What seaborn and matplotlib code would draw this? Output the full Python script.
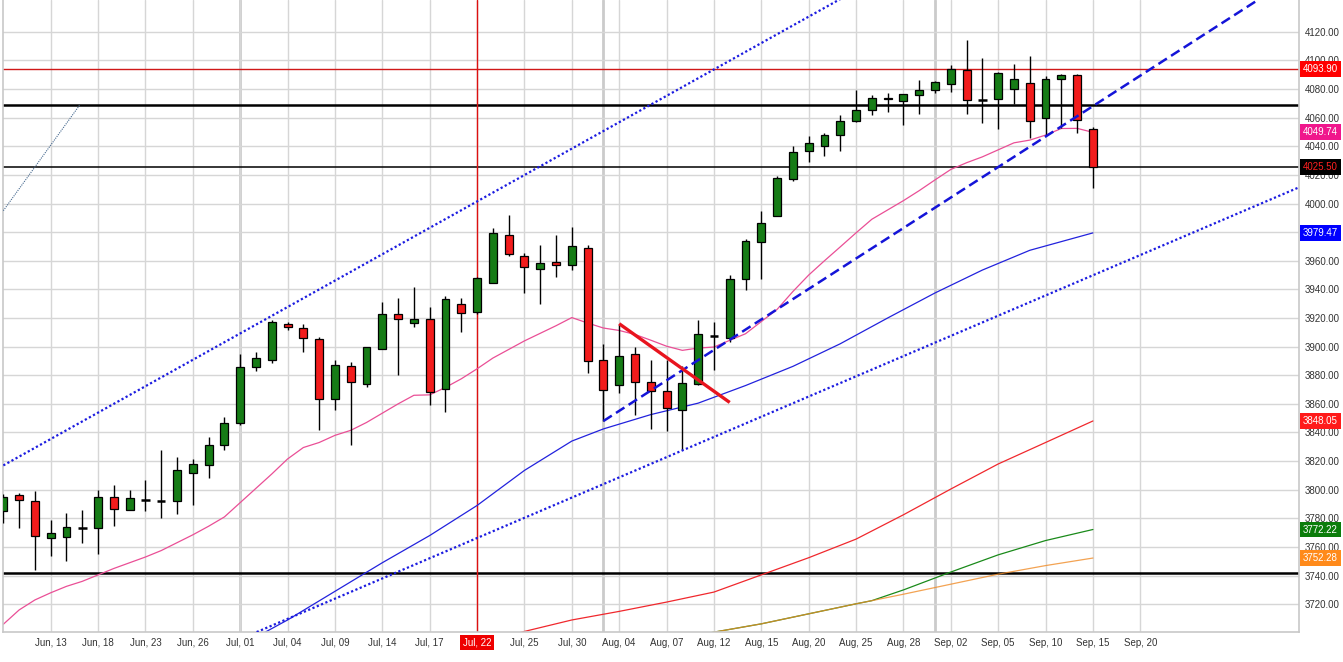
import matplotlib
matplotlib.use('Agg')
import matplotlib.pyplot as plt
import matplotlib.transforms as mtransforms
import seaborn as sns

# ---- data ----
date_labels = ['Jun, 13', 'Jun, 18', 'Jun, 23', 'Jun, 26', 'Jul, 01', 'Jul, 04', 'Jul, 09',
               'Jul, 14', 'Jul, 17', 'Jul, 22', 'Jul, 25', 'Jul, 30', 'Aug, 04', 'Aug, 07',
               'Aug, 12', 'Aug, 15', 'Aug, 20', 'Aug, 25', 'Aug, 28', 'Sep, 02', 'Sep, 05',
               'Sep, 10', 'Sep, 15', 'Sep, 20']
highlight_label = 'Jul, 22'
month_bars = [15, 38, 59]

opens = [3785, 3796, 3792, 3766.5, 3767, 3773, 3773.5, 3795, 3786, 3792.5,
         3792.3, 3792.3, 3812, 3817, 3831, 3846.5, 3886, 3890.5, 3916, 3913.3,
         3905.5, 3863.5, 3886.5, 3874, 3898.5, 3923, 3916.5, 3919.5, 3870.5, 3930,
         3924.5, 3944.5, 3978, 3963, 3954.3, 3959, 3957.3, 3969, 3891, 3873.5,
         3895, 3875, 3869, 3856, 3874, 3907.3, 3906, 3947, 3973, 3991.5,
         4017, 4037, 4040, 4048, 4058, 4065, 4074, 4071.8, 4076, 4079,
         4083.2, 4093, 4072.3, 4072.7, 4080.2, 4084, 4060, 4086.7, 4090, 4052]
highs = [3797, 3798, 3799, 3779, 3783.5, 3786, 3800, 3803.5, 3799.5, 3807,
         3828, 3823, 3821.5, 3837, 3850.5, 3894.5, 3896.5, 3918.5, 3917, 3915.5,
         3907, 3891, 3889.5, 3900, 3931, 3934, 3941.5, 3928, 3935.5, 3934,
         3949, 3983, 3992, 3965.5, 3971, 3978, 3983.5, 3971, 3901.5, 3915.5,
         3900, 3891, 3891, 3886.5, 3918.5, 3917.5, 3950, 3975, 3994.5, 4019.5,
         4040.5, 4047, 4049, 4061.5, 4079, 4076, 4077.5, 4076.4, 4086.3, 4085.6,
         4096.5, 4114, 4101.5, 4091.8, 4097.5, 4103, 4089, 4090.5, 4090.5, 4053.5]
lows = [3777, 3773, 3744, 3753.5, 3750, 3763, 3755, 3774.5, 3785.5, 3785,
        3780.5, 3783, 3789, 3808, 3827.5, 3845, 3883, 3888.5, 3911.5, 3896,
        3842, 3856, 3831, 3872, 3898.5, 3880.5, 3913.5, 3859.5, 3854.5, 3910,
        3923, 3944.5, 3963.5, 3937.5, 3929.5, 3948.5, 3953.5, 3881.5, 3848, 3867.5,
        3852, 3842.5, 3841, 3827.5, 3873.5, 3883.5, 3903.5, 3939.5, 3947, 3991.5,
        4015.8, 4029, 4033, 4037, 4057, 4061.5, 4064, 4055, 4062.7, 4077,
        4078, 4062.7, 4056.5, 4052.2, 4069.2, 4046, 4048, 4052.7, 4049.5, 4011]
closes = [3795, 3793, 3768, 3770, 3774, 3773.3, 3795, 3786.5, 3794.5, 3792.7,
          3792.5, 3813.5, 3818, 3831.5, 3846.5, 3886, 3892.3, 3917, 3914, 3906.3,
          3863.5, 3887.5, 3875, 3899.5, 3923, 3919.5, 3919.5, 3868, 3933, 3923.5,
          3948, 3979.5, 3965, 3955.7, 3958.7, 3957.3, 3970, 3890, 3870, 3893.5,
          3875.3, 3869, 3857.3, 3874.3, 3909, 3907.6, 3947.5, 3974, 3986.5, 4017.5,
          4036.3, 4042, 4048, 4058, 4065.5, 4074, 4072.7, 4076.2, 4079, 4085,
          4094.2, 4072, 4072.5, 4091, 4086.7, 4058, 4086.7, 4090, 4058.7, 4025.5]

# moving averages
pink_ma = [3706, 3716, 3723, 3728, 3732.5, 3736, 3740.5, 3745, 3749, 3753,
           3757.5, 3763, 3768.5, 3774.5, 3781, 3791, 3801, 3811, 3821.5, 3829.5,
           3833, 3838, 3841.5, 3847, 3853.5, 3860, 3866, 3866.3, 3871.5, 3877.5,
           3884.5, 3892, 3898, 3904, 3909.3, 3914.6, 3920.3, 3916.5, 3913, 3911.3,
           3908.5, 3904.5, 3900.3, 3897.4, 3899, 3899.7, 3904.4, 3909, 3917.5, 3926,
           3938.5, 3950, 3960, 3969.7, 3979.5, 3989, 3995.5, 4002, 4009, 4016.5,
           4023.8, 4028.5, 4032.6, 4037.5, 4042.4, 4044.3, 4047.8, 4052.4, 4052.5, 4049.74]
blue_ma_bars = [16, 18, 21, 24, 27, 30, 33, 36, 38, 41, 44, 47, 50, 53, 56, 59, 62, 65, 69]
blue_ma = [3697, 3709, 3729, 3749, 3768, 3789, 3813.5, 3834, 3842.5, 3852.5,
           3860.5, 3872.8, 3886.2, 3902, 3920, 3937.5, 3953.5, 3967.3, 3979.47]
red_ma_bars = [32, 33, 36, 39, 42, 45, 48, 51, 54, 57, 60, 63, 66, 69]
red_ma = [3698, 3701, 3709, 3715, 3721.5, 3728.5, 3740.5, 3752.5, 3765.5, 3782.5,
          3800.5, 3818, 3833, 3848.05]
green_ma_bars = [44, 45, 48, 51, 54, 55, 57, 60, 63, 66, 69]
green_ma = [3698.5, 3700.5, 3706.3, 3713.3, 3720.3, 3722.5, 3730, 3742.5, 3754.5, 3764.5, 3772.22]
orange_ma_bars = [44, 45, 48, 51, 54, 55, 57, 60, 63, 66, 69]
orange_ma = [3698.5, 3700.5, 3706.3, 3713.3, 3720.3, 3722.5, 3727, 3734, 3741, 3747, 3752.28]

# drawn studies: horizontal levels and trend lines (bar index, price)
red_level = 4093.90
upper_black_level = 4069.0
close_level = 4025.50
lower_black_level = 3741.5
highlight_bar = 30
channel_upper = ([0, 54], [3817, 4149])
channel_lower = ([15.5, 82.2], [3698, 4012])
rising_dashed = ([38, 79.5], [3848, 4142.6])
falling_red = ([39, 46], [3916, 3861])
small_dotted = ([0, 4.85], [3995, 4069])

value_tags = [(4093.90, '#ff0000', 'white'), (4049.74, '#f0168c', 'white'),
              (4025.50, '#000000', '#ff2020'), (3979.47, '#0000ff', 'white'),
              (3848.05, '#ff1a1a', 'white'), (3772.22, '#0b7d0b', 'white'),
              (3752.28, '#ff8a1a', 'white')]

# ---- style ----
sns.set_style('white')
plt.rcParams['font.family'] = ['Liberation Sans', 'DejaVu Sans']

fig = plt.figure(figsize=(13.43, 6.62), dpi=100)
ax = fig.add_axes([3 / 1343, 30 / 662, 1296 / 1343, 632 / 662])
ax.set_xlim(-0.02, 82.05)
ax.set_ylim(3700.6, 4142.2)

grid_c = '#d6d6d6'
tick_pos = [3 + 3 * k for k in range(len(date_labels))]
ax.set_xticks(tick_pos)
ax.set_xticklabels(date_labels)
ax.set_yticks(range(3720, 4121, 20))
ax.set_yticklabels(['%.2f' % v for v in range(3720, 4121, 20)])
ax.grid(True, color=grid_c, lw=1.0, zorder=0)
ax.set_axisbelow(True)
for b in month_bars:
    ax.axvline(b, color='#cbcbcb', lw=2.0, zorder=0.5)

ax.yaxis.tick_right()
ax.tick_params(axis='y', length=0, pad=4, labelsize=7, labelcolor='#333333')
ax.tick_params(axis='x', length=0, pad=4, labelsize=7, labelcolor='#333333')
for t in ax.get_xticklabels():
    if t.get_text() == highlight_label:
        t.set_color('white')
        t.set_bbox(dict(facecolor='#ee0000', edgecolor='none', boxstyle='square,pad=0.3'))

for s in ['left', 'right', 'bottom']:
    ax.spines[s].set_color('#c8c8c8')
    ax.spines[s].set_linewidth(1.2)
ax.spines['top'].set_visible(False)

# horizontal levels and the highlighted day
ax.axhline(red_level, color='#d01818', lw=1.0, zorder=2)
ax.axhline(upper_black_level, color='black', lw=1.8, zorder=2)
ax.axhline(close_level, color='black', lw=1.1, zorder=2)
ax.axhline(lower_black_level, color='black', lw=1.8, zorder=2)
ax.axvline(highlight_bar, color='#dd1010', lw=1.0, zorder=2)

# moving averages
sns.lineplot(x=list(range(len(pink_ma))), y=pink_ma, ax=ax, color='#ea4f96', lw=0.9, zorder=2)
sns.lineplot(x=blue_ma_bars, y=blue_ma, ax=ax, color='#2222dd', lw=0.9, zorder=2)
sns.lineplot(x=red_ma_bars, y=red_ma, ax=ax, color='#f0282d', lw=0.9, zorder=2)
sns.lineplot(x=green_ma_bars, y=green_ma, ax=ax, color='#1a8a1a', lw=0.9, zorder=2)
sns.lineplot(x=orange_ma_bars, y=orange_ma, ax=ax, color='#f08c28', lw=0.9, zorder=2.1, alpha=0.8)

# candlesticks
bars = list(range(len(opens)))
up_c, down_c = '#167c16', '#f21c1c'
ax.vlines(bars, lows, highs, color='black', lw=1.0, zorder=3)
for i in bars:
    o, c = opens[i], closes[i]
    if abs(c - o) < 1:
        ax.hlines((o + c) / 2, i - 0.27, i + 0.27, color='black', lw=1.8, zorder=3.2)
    else:
        ax.bar(i, c - o, bottom=o, width=0.5, color=up_c if c > o else down_c,
               edgecolor='black', linewidth=0.9, zorder=3.1)

# trend lines
ax.plot(*channel_upper, color='#1c1ce0', lw=1.6, ls=(0, (1, 1.1)), zorder=4)
ax.plot(*channel_lower, color='#1c1ce0', lw=1.6, ls=(0, (1, 1.1)), zorder=4)
ax.plot(*rising_dashed, color='#1414d8', lw=1.8, ls=(0, (4, 2)), zorder=4)
ax.plot(*falling_red, color='#e8141e', lw=2.4, solid_capstyle='butt', zorder=4)
ax.plot(*small_dotted, color='#46698f', lw=0.8, ls=(0, (1, 1)), zorder=4)

# price tags on the right axis
trans = mtransforms.blended_transform_factory(ax.transAxes, ax.transData)
for val, bg, fg in value_tags:
    ax.text(1.0 + 4 / 1296, val, '%.2f' % val, transform=trans, ha='left', va='center',
            fontsize=7, color=fg, clip_on=False, zorder=6,
            bbox=dict(facecolor=bg, edgecolor='none', boxstyle='square,pad=0.3'))

fig.savefig('out.png', dpi=100, facecolor='white')
